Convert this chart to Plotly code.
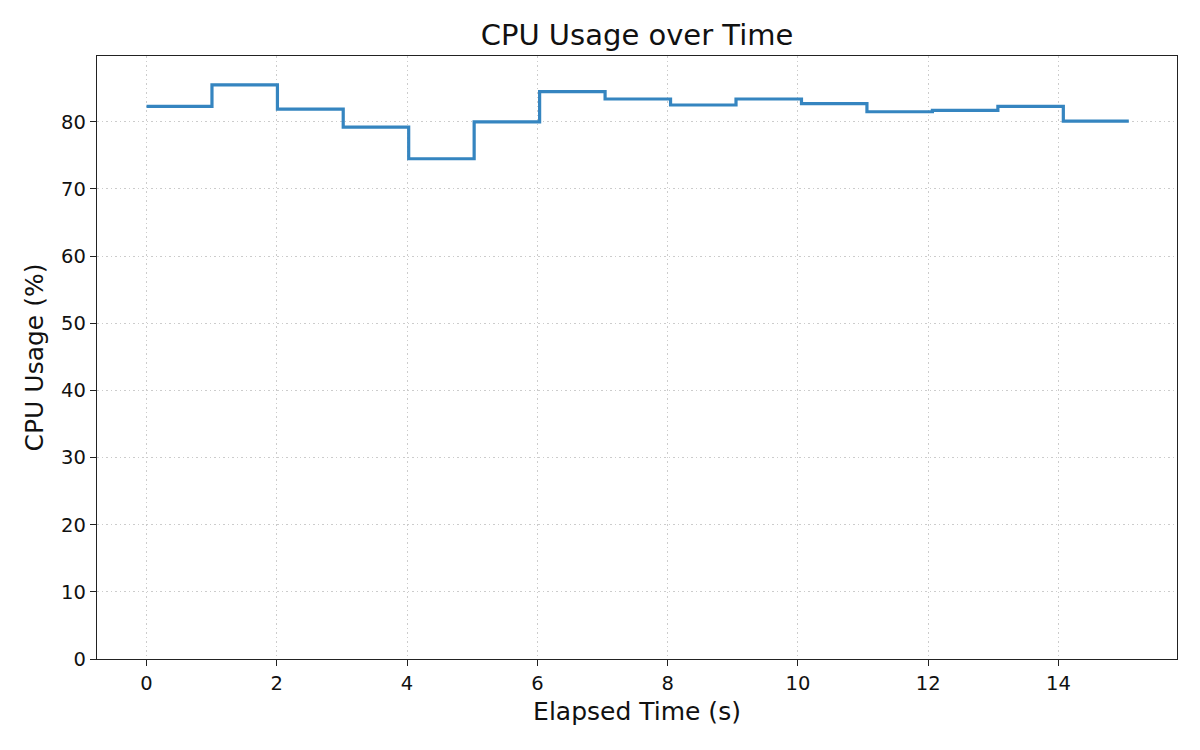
import plotly.graph_objects as go

# elapsed time (s) and cpu usage (%)
elapsed_s = [0.0, 1.005, 2.01, 3.02, 4.025, 5.03, 6.035, 7.04, 8.045, 9.05,
             10.055, 11.06, 12.065, 13.07, 14.075, 15.08]
cpu_pct = [82.3, 85.5, 81.9, 79.2, 74.5, 80.0, 84.5, 83.4, 82.5, 83.4,
           82.7, 81.5, 81.7, 82.3, 80.1, 80.1]

x_ticks = [0, 2, 4, 6, 8, 10, 12, 14]
y_ticks = [0, 10, 20, 30, 40, 50, 60, 70, 80]

FONT = "DejaVu Sans"

fig = go.Figure()
fig.add_trace(go.Scatter(
    x=elapsed_s, y=cpu_pct,
    mode="lines", line_shape="hv",
    line=dict(color="#3585c0", width=3.2),
    showlegend=False,
))

axis_common = dict(
    showline=True, linecolor="#222222", linewidth=1.3, mirror=True,
    ticks="outside", ticklen=6, tickwidth=1.3, tickcolor="#222222",
    showgrid=True, gridcolor="#cccccc", griddash="1.5px,3px", gridwidth=1.2,
    zeroline=False,
    tickfont=dict(family=FONT, size=19.5, color="#111111"),
)

fig.update_xaxes(
    range=[-0.76, 15.82], tickvals=x_ticks,
    title=dict(text="Elapsed Time (s)", font=dict(family=FONT, size=25, color="#111111"), standoff=8),
    **axis_common,
)
fig.update_yaxes(
    range=[0, 89.8], tickvals=y_ticks,
    title=dict(text="CPU Usage (%)", font=dict(family=FONT, size=25, color="#111111"), standoff=10),
    **axis_common,
)

fig.update_layout(
    width=1200, height=750,
    paper_bgcolor="white", plot_bgcolor="white",
    margin=dict(l=89, r=31, t=48, b=99),
    title=dict(text="CPU Usage over Time", xref="paper", x=0.5, xanchor="center",
               y=0.964, yanchor="middle",
               font=dict(family=FONT, size=29, color="#111111")),
)

fig.write_html("out.html")
